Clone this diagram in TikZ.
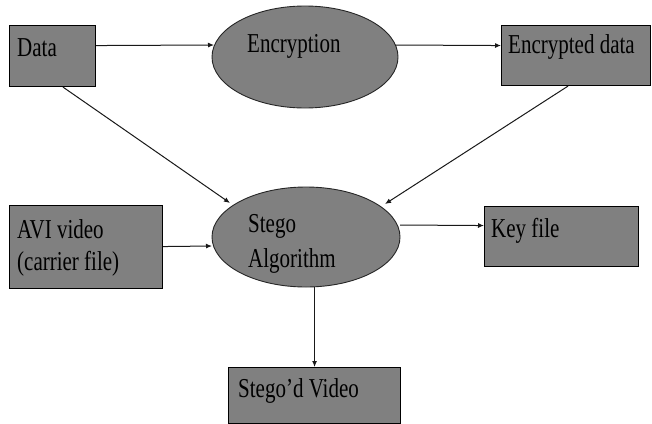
\documentclass[tikz,border=0pt]{standalone}
\usepackage{fontspec}
\setmainfont{Liberation Serif}
\usetikzlibrary{arrows.meta,shapes.geometric,calc}
\definecolor{boxgray}{HTML}{808080}
\newcommand\vs[1]{\scalebox{1}[1.3]{#1}}
\tikzset{
  boxnode/.style={draw=black,line width=1.1pt,fill=boxgray,rectangle,inner sep=0pt,anchor=north west},
  ellnode/.style={draw=black!85,line width=0.9pt,fill=boxgray,ellipse,inner sep=0pt},
  txt/.style={anchor=base west,inner sep=0pt,font=\fontsize{21}{34}\selectfont,align=left,text=black},
  arr/.style={draw=black!90,line width=1pt,-{Latex[length=6pt,width=5pt]}}
}
\begin{document}
\begin{tikzpicture}[x=1pt,y=-1pt]
\useasboundingbox[fill=white] (0,0) rectangle (652,423);
% shapes
\node[boxnode,minimum width=86pt,minimum height=61pt] (data) at (9,25) {};
\node[ellnode,minimum width=186pt,minimum height=102pt] (enc) at (305,57) {};
\node[boxnode,minimum width=149pt,minimum height=60pt] (encd) at (501,25) {};
\node[boxnode,minimum width=153pt,minimum height=83pt] (avi) at (9,205) {};
\node[ellnode,minimum width=188pt,minimum height=100pt] (stego) at (306,237) {};
\node[boxnode,minimum width=154pt,minimum height=60pt] (key) at (484,206) {};
\node[boxnode,minimum width=172pt,minimum height=56pt] (sv) at (228,367) {};
% texts
\node[txt] (tdata) at (17,56) {\vs{Data}};
\node[txt] (tenc) at (247,52) {\vs{Encryption}};
\node[txt] (tencd) at (508,53) {\vs{Encrypted data}};
\node[txt] (tavi) at (17,270) {\vs{AVI video}\\[-2pt]\vs{(carrier file)}};
\node[txt] (tstego) at (248,267) {\vs{Stego}\\[1pt]\vs{Algorithm}};
\node[txt] (tkey) at (491,237) {\vs{Key file}};
\node[txt] (tsv) at (238,397) {\vs{Stego’d Video}};
% connectors
\draw[arr] ([yshift=10.5pt]data.east) -- ($(enc.center)+(-91,-12)$);
\draw[arr] ($(enc.center)+(90,-12)$) -- ([yshift=10pt]encd.west);
\draw[arr] ($(data.south west)+(54,0)$) -- ($(stego.center)+(-76,-34)$);
\draw[arr] ($(encd.south west)+(67,0)$) -- ($(stego.center)+(79,-33)$);
\draw[arr] ([yshift=0.5pt]avi.east) -- ($(stego.center)+(-94,9)$);
\draw[arr] ($(stego.center)+(94,-12)$) -- ([yshift=11pt]key.west);
\draw[arr] (stego.south -| sv.north) -- (sv.north);
\end{tikzpicture}
\end{document}
